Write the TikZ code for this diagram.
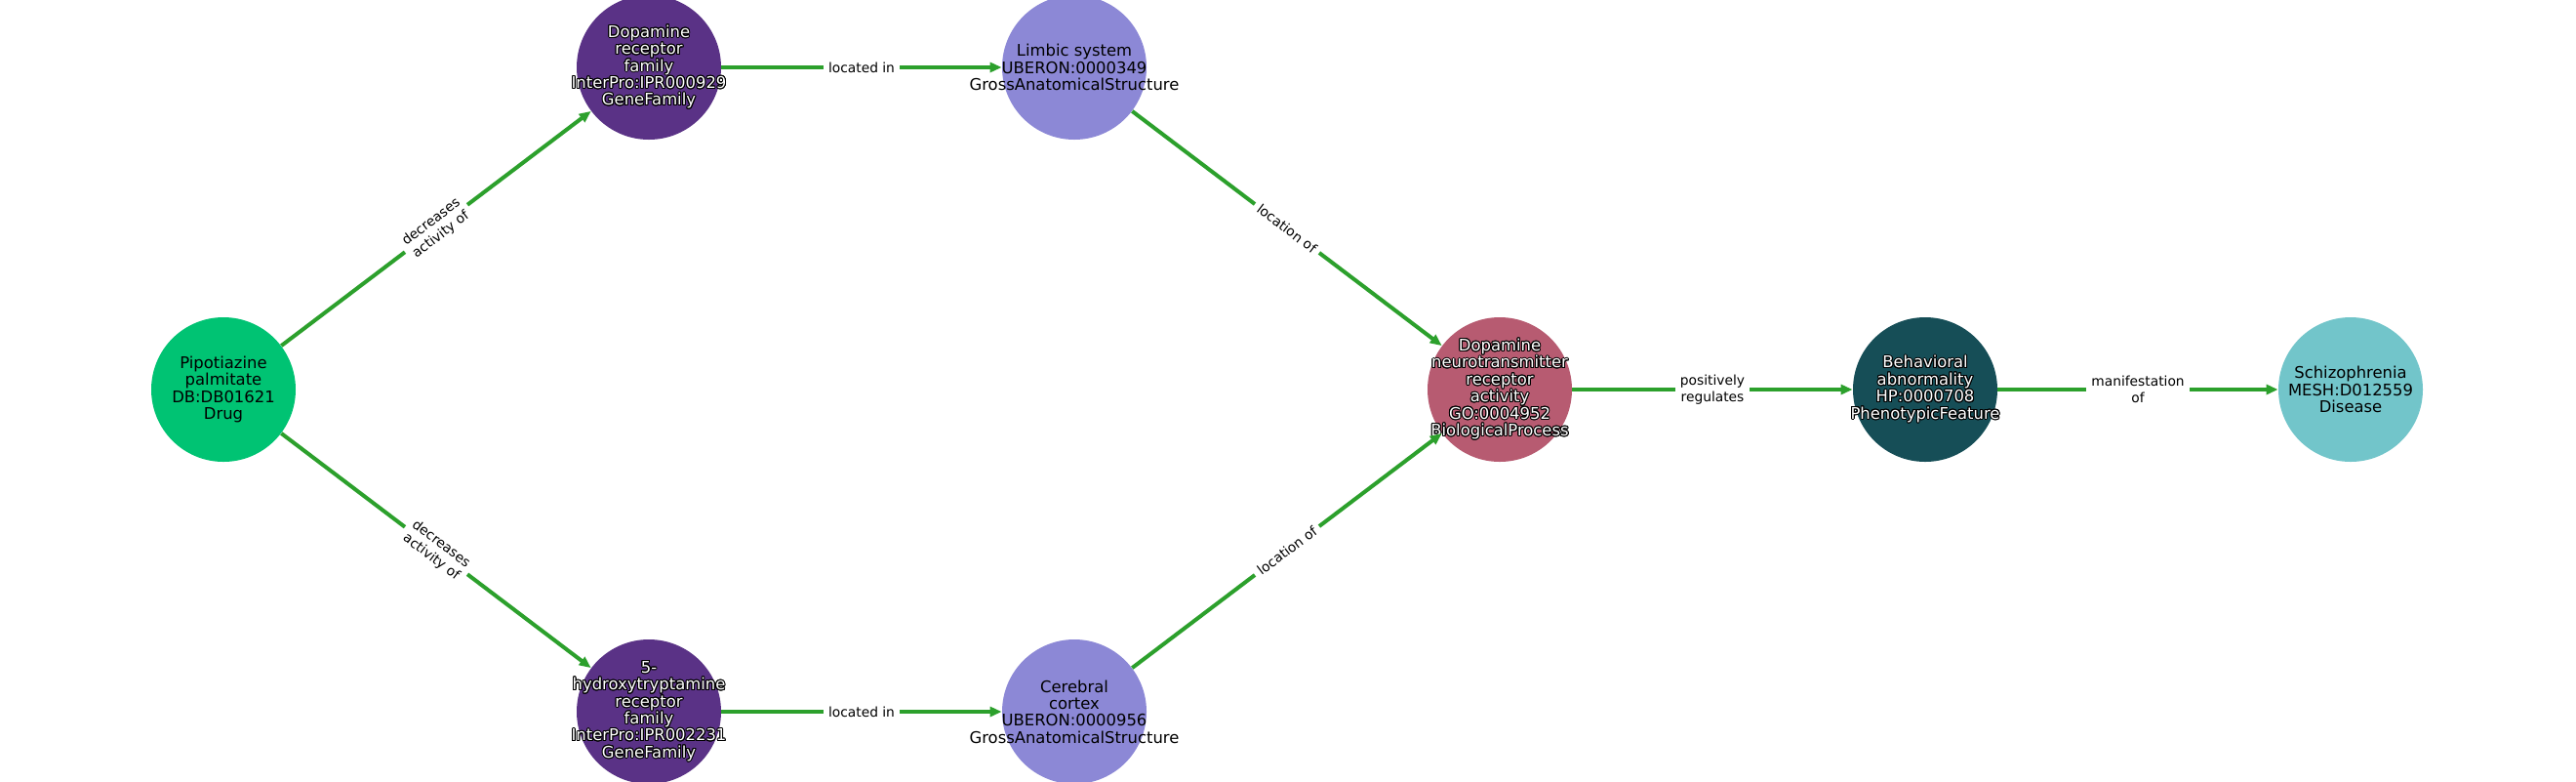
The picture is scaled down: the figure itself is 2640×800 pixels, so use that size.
\documentclass[tikz,border=0pt]{standalone}
\usepackage{fontspec}
\setmainfont{DejaVu Sans}
\usepackage[copies]{contour}
\contourlength{0.5pt}
\contournumber{16}
\usetikzlibrary{arrows.meta}
\definecolor{edgegreen}{HTML}{2CA02C}
\definecolor{drugcol}{HTML}{00C373}
\definecolor{genecol}{HTML}{5A3286}
\definecolor{anatcol}{HTML}{8C88D6}
\definecolor{biocol}{HTML}{B75B71}
\definecolor{phencol}{HTML}{164E57}
\definecolor{discol}{HTML}{72C5CA}
\newcommand{\wl}[1]{\contour{black}{#1}}
\begin{document}
\begin{tikzpicture}[x=0.5pt,y=-0.5pt,
  ent/.style={circle, minimum size=74pt, inner sep=0pt},
  entlab/.style={align=center, inner sep=0pt, font=\fontsize{8.2}{8.7}\selectfont},
  darkent/.style={ent, label={[entlab, text=white]center:#1}},
  lightent/.style={ent, label={[entlab, text=black]center:#1}},
  rel/.style={draw=edgegreen, line width=2pt, -{Triangle[length=6pt,width=5pt]}},
  lab/.style={fill=white, text=black, font=\fontsize{6.9}{8.2}\selectfont, align=center,
    inner xsep=2.5pt, inner ysep=1pt, sloped}
]
\useasboundingbox (0,0) rectangle (2640,800);
\fill[white] (0,0) rectangle (2640,800);

\node[fill=drugcol, lightent={Pipotiazine\\palmitate\\DB:DB01621\\Drug}] (drug) at (229,399) {};
\node[fill=genecol, darkent={\wl{Dopamine}\\\wl{receptor}\\\wl{family}\\\wl{InterPro:IPR000929}\\\wl{GeneFamily}}] (drf) at (665,69) {};
\node[fill=anatcol, lightent={Limbic system\\UBERON:0000349\\GrossAnatomicalStructure}] (limb) at (1101,69) {};
\node[fill=biocol, darkent={\wl{Dopamine}\\\wl{neurotransmitter}\\\wl{receptor}\\\wl{activity}\\\wl{GO:0004952}\\\wl{BiologicalProcess}}] (dnra) at (1537,399) {};
\node[fill=phencol, darkent={\wl{Behavioral}\\\wl{abnormality}\\\wl{HP:0000708}\\\wl{PhenotypicFeature}}] (beh) at (1973,399) {};
\node[fill=discol, lightent={Schizophrenia\\MESH:D012559\\Disease}] (schiz) at (2409,399) {};
\node[fill=genecol, darkent={\wl{5-}\\\wl{hydroxytryptamine}\\\wl{receptor}\\\wl{family}\\\wl{InterPro:IPR002231}\\\wl{GeneFamily}}] (htr) at (665,729) {};
\node[fill=anatcol, lightent={Cerebral\\cortex\\UBERON:0000956\\GrossAnatomicalStructure}] (cortex) at (1101,729) {};

\draw[rel] (drug) -- node[lab] {decreases\\activity of} (drf);
\draw[rel] (drug) -- node[lab] {decreases\\activity of} (htr);
\draw[rel] (drf) -- node[lab] {located in} (limb);
\draw[rel] (htr) -- node[lab] {located in} (cortex);
\draw[rel] (limb) -- node[lab] {location of} (dnra);
\draw[rel] (cortex) -- node[lab] {location of} (dnra);
\draw[rel] (dnra) -- node[lab] {positively\\regulates} (beh);
\draw[rel] (beh) -- node[lab] {manifestation\\of} (schiz);
\end{tikzpicture}
\end{document}
